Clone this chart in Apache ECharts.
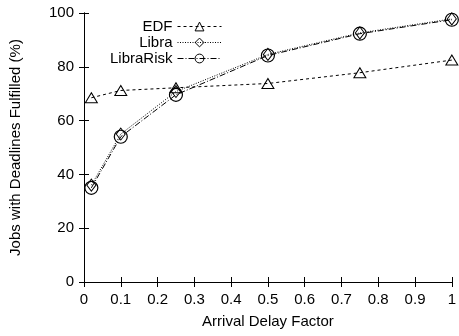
<!DOCTYPE html>
<html><head><meta charset="utf-8">
<script src="https://cdn.jsdelivr.net/npm/echarts@6/dist/echarts.min.js"></script>
<style>html,body{margin:0;padding:0;background:#fff}#c{width:459px;height:336px}</style>
</head><body><div id="c"></div>
<script>
var xValues = [0.02, 0.1, 0.25, 0.5, 0.75, 1.0];
var edf = [68.5, 71.2, 72.2, 73.8, 77.8, 82.5];
var libra = [36.0, 55.0, 70.8, 84.6, 92.6, 97.8];
var libraRisk = [35.0, 54.0, 69.6, 84.2, 92.3, 97.5];
var seriesNames = ['EDF', 'Libra', 'LibraRisk'];
var xTicks = [0, 0.1, 0.2, 0.3, 0.4, 0.5, 0.6, 0.7, 0.8, 0.9, 1];
var yTicks = [0, 20, 40, 60, 80, 100];

var FONT = 'Liberation Sans, Arial, Helvetica, sans-serif';
function pts(ys){ return xValues.map(function(x,i){ return [x, ys[i]]; }); }
var chart = echarts.init(document.getElementById('c'), null, {renderer:'canvas'});
var tickStyle = {show:true, inside:true, length:5, lineStyle:{color:'#000', width:1}};
var lineAx = {show:true, lineStyle:{color:'#000', width:1}};
function legend(name, top){
  return {data:[name], right: 237, top: top, orient:'vertical', align:'right',
    itemWidth: 44, itemHeight: 11, itemGap: 6, padding:0,
    itemStyle:{color:'rgba(255,255,255,0)', borderColor:'#000', borderWidth:1},
    lineStyle:{width:1, color:'#000', inactiveWidth:1},
    textStyle:{fontFamily:FONT, fontSize:15, color:'#000'}};
}
chart.setOption({
  animation:false,
  grid:{left:81, right:4, top:13, bottom:54, show:false},
  legend:[legend('EDF', 19), legend('Libra', 35), legend('LibraRisk', 51)],
  xAxis:[{
    type:'value', min:0, max:1, interval:0.1,
    axisLine:lineAx, axisTick:tickStyle, splitLine:{show:false},
    axisLabel:{fontFamily:FONT, fontSize:15, color:'#000', margin:10,
      formatter:function(v){ return String(Math.round(v*10)/10); }},
    name:'Arrival Delay Factor', nameLocation:'middle', nameGap:32,
    nameTextStyle:{fontFamily:FONT, fontSize:15, color:'#000'}
  },{
    type:'value', min:0, max:1, interval:0.1, position:'top',
    axisLine:lineAx, axisTick:tickStyle, axisLabel:{show:false}, splitLine:{show:false}
  }],
  yAxis:[{
    type:'value', min:0, max:100, interval:20,
    axisLine:lineAx, axisTick:tickStyle, splitLine:{show:false},
    axisLabel:{fontFamily:FONT, fontSize:15, color:'#000', margin:10},
    name:'Jobs with Deadlines Fulfilled (%)', nameLocation:'middle', nameGap:61,
    nameTextStyle:{fontFamily:FONT, fontSize:15, color:'#000'}
  },{
    type:'value', min:0, max:100, interval:20, position:'right',
    axisLine:lineAx, axisTick:tickStyle, axisLabel:{show:false}, splitLine:{show:false}
  }],
  series:[{
    name:seriesNames[0], type:'line', data:pts(edf), symbol:'triangle', symbolSize:[12,10],
    lineStyle:{color:'#000', width:1, type:[3,3]},
    itemStyle:{color:'rgba(255,255,255,0)', borderColor:'#000', borderWidth:1}
  },{
    name:seriesNames[1], type:'line', data:pts(libra), symbol:'diamond', symbolSize:[9,12],
    lineStyle:{color:'#000', width:1, type:[1,1.5]},
    itemStyle:{color:'rgba(255,255,255,0)', borderColor:'#000', borderWidth:1}
  },{
    name:seriesNames[2], type:'line', data:pts(libraRisk), symbol:'circle', symbolSize:13,
    lineStyle:{color:'#000', width:1, type:[6,2,1,2]},
    itemStyle:{color:'rgba(255,255,255,0)', borderColor:'#000', borderWidth:1.2}
  }]
});
</script></body></html>
